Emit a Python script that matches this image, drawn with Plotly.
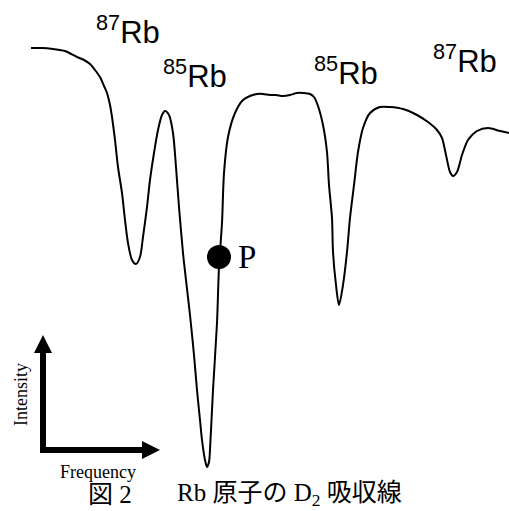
import plotly.graph_objects as go

# Absorption spectrum trace (frequency axis -> x, signal level -> y; y axis drawn downward-increasing)
freq = [31, 42, 53, 65, 77, 84, 90, 95, 100, 104, 107, 110, 112, 115, 118, 122, 125, 128, 132,
        136, 140, 143, 147, 150, 154, 158, 162, 165, 169, 173, 176, 179, 183, 186, 190, 194,
        197, 200, 202, 205, 207, 209, 210, 213, 217, 219, 222, 224, 228, 235, 243, 250, 257,
        263, 270, 276, 283, 290, 297, 303, 310, 314, 318, 323, 327, 329, 332, 333, 336, 339,
        343, 347, 350, 354, 358, 363, 370, 380, 390, 403, 417, 428, 437, 442, 446, 450, 453,
        457, 462, 468, 477, 488, 500, 509]
signal = [48, 48, 49, 51, 57, 60, 64, 70, 77, 86, 93, 105, 117, 140, 167, 193, 220, 243, 260,
          264, 257, 237, 207, 180, 153, 130, 115, 111, 115, 133, 167, 207, 253, 280, 315, 355,
          390, 420, 440, 460, 467, 462, 450, 390, 323, 267, 223, 173, 137, 113, 100, 96, 94,
          94, 95, 95, 96, 95, 93, 93, 94, 97, 106, 125, 152, 185, 218, 252, 285, 305,
          285, 252, 218, 185, 152, 128, 113, 107, 107, 109, 115, 122, 130, 138, 155, 172, 176,
          172, 155, 140, 131, 128, 131, 133]

point_p = {"x": [219], "y": [257], "label": "P"}

peak_labels = ["<sup>87</sup>Rb", "<sup>85</sup>Rb", "<sup>85</sup>Rb", "<sup>87</sup>Rb"]
peak_label_x = [128, 195, 346, 465]
peak_label_y = [30, 74, 71, 59]

fig = go.Figure()
fig.add_trace(go.Scatter(x=freq, y=signal, mode="lines",
                         line=dict(color="black", width=2, shape="spline", smoothing=0.8),
                         hoverinfo="skip"))
fig.add_trace(go.Scatter(x=point_p["x"], y=point_p["y"], mode="markers",
                         marker=dict(color="black", size=24), hoverinfo="skip"))

annos = []
for t, x, y in zip(peak_labels, peak_label_x, peak_label_y):
    annos.append(dict(x=x, y=y, text=t, showarrow=False, xref="x", yref="y",
                      font=dict(family="Liberation Sans, Arial", size=31, color="black")))
annos.append(dict(x=247, y=257, text=point_p["label"], showarrow=False,
                  font=dict(family="Liberation Serif, Times New Roman", size=33, color="black")))
annos.append(dict(x=98, y=472, text="Frequency", showarrow=False,
                  font=dict(family="Liberation Serif", size=18, color="black")))
annos.append(dict(x=21, y=395, text="Intensity", showarrow=False, textangle=-90,
                  font=dict(family="Liberation Serif", size=18, color="black")))
annos.append(dict(x=86, y=494, text="図 2", showarrow=False, xanchor="left",
                  font=dict(family="Liberation Serif, Noto Sans CJK JP", size=25, color="black")))
annos.append(dict(x=175, y=494, text="Rb 原子の D<sub>2</sub> 吸収線", showarrow=False, xanchor="left",
                  font=dict(family="Liberation Serif, Noto Sans CJK JP", size=25, color="black")))

shapes = [
    dict(type="line", x0=43, y0=453, x1=43, y1=350, line=dict(color="black", width=6)),
    dict(type="path", path="M 34 353 L 52 353 L 43 335 Z", fillcolor="black", line=dict(width=0)),
    dict(type="line", x0=40, y0=450, x1=145, y1=450, line=dict(color="black", width=6)),
    dict(type="path", path="M 142 441 L 142 459 L 160 450 Z", fillcolor="black", line=dict(width=0)),
]

fig.update_layout(
    width=509, height=511,
    margin=dict(l=0, r=0, t=0, b=0),
    paper_bgcolor="white", plot_bgcolor="white",
    showlegend=False,
    xaxis=dict(range=[0, 509], visible=False, fixedrange=True),
    yaxis=dict(range=[511, 0], visible=False, fixedrange=True),
    annotations=annos,
    shapes=shapes,
)
fig.write_html("out.html")
